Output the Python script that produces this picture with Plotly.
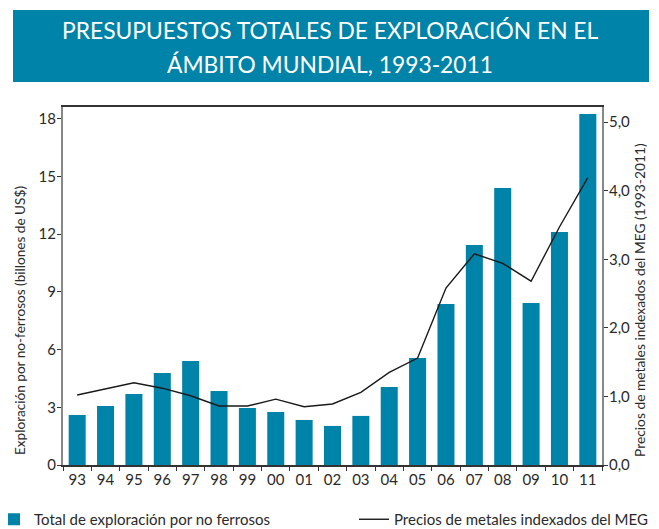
import plotly.graph_objects as go

years = ["93", "94", "95", "96", "97", "98", "99", "00", "01", "02",
         "03", "04", "05", "06", "07", "08", "09", "10", "11"]
exploracion = [2.6, 3.06, 3.69, 4.78, 5.40, 3.84, 2.96, 2.75, 2.34, 2.03,
               2.55, 4.05, 5.56, 8.36, 11.43, 14.39, 8.42, 12.10, 18.23]
precios = [1.02, 1.11, 1.20, 1.12, 1.01, 0.86, 0.86, 0.96, 0.85, 0.89,
           1.06, 1.35, 1.56, 2.58, 3.08, 2.94, 2.68, 3.47, 4.19]
left_ticks = [0, 3, 6, 9, 12, 15, 18]
right_ticks = [0, 1, 2, 3, 4, 5]
right_labels = ["0,0", "1,0", "2,0", "3,0", "4,0", "5,0"]

TEAL = "#0083a8"
FONT = "Lato"
TXT = "#2a2a2a"

fig = go.Figure()
fig.add_trace(go.Bar(x=years, y=exploracion, marker_color=TEAL, marker_line_width=0,
                     name="Total de exploración por no ferrosos", legend="legend"))
fig.add_trace(go.Scatter(x=years, y=precios, yaxis="y2", mode="lines",
                         line=dict(color="#1a1a1a", width=1.4),
                         name="Precios de metales indexados del MEG", legend="legend2"))

# page is offset by the default 8px body margin
OFF = 8
PAGE_W, PAGE_H = 659, 529
W, H = PAGE_W - OFF, PAGE_H - OFF
L, R, T, B = 63, 602, 107, 465          # plot area in page pixels
pw, ph = R - L, B - T

def px(x):
    return (x - L) / pw

def py(y):
    return (B - y) / ph

fig.add_shape(type="rect", xref="paper", yref="paper",
              x0=px(13), x1=px(649), y0=py(82), y1=py(10),
              fillcolor=TEAL, line_width=0, layer="below")
fig.add_annotation(xref="paper", yref="paper", x=px(330), y=py(30),
                   text="PRESUPUESTOS TOTALES DE EXPLORACIÓN EN EL", showarrow=False,
                   font=dict(family=FONT, size=22.8, color="white"),
                   xanchor="center", yanchor="middle")
fig.add_annotation(xref="paper", yref="paper", x=px(330), y=py(64),
                   text="ÁMBITO MUNDIAL, 1993-2011", showarrow=False,
                   font=dict(family=FONT, size=22.8, color="white"),
                   xanchor="center", yanchor="middle")
fig.add_annotation(xref="paper", yref="paper", x=px(20), y=py(321),
                   text="Exploración por no-ferrosos (billones de US$)", showarrow=False,
                   textangle=-90, font=dict(family=FONT, size=13.6, color=TXT),
                   xanchor="center", yanchor="middle")
fig.add_annotation(xref="paper", yref="paper", x=px(639), y=py(300),
                   text="Precios de metales indexados del MEG (1993-2011)", showarrow=False,
                   textangle=-90, font=dict(family=FONT, size=13.8, color=TXT),
                   xanchor="center", yanchor="middle")

fig.update_layout(
    width=W, height=H,
    margin=dict(l=L - OFF, r=PAGE_W - R, t=T - OFF, b=PAGE_H - B, autoexpand=False),
    paper_bgcolor="white", plot_bgcolor="white",
    font=dict(family=FONT, size=14, color=TXT),
    bargap=0.4,
    xaxis=dict(type="category", tickson="boundaries", ticks="outside", ticklen=4,
               tickcolor="#333", showline=True, linecolor="#333", linewidth=1.5,
               mirror=True, showgrid=False, tickfont=dict(size=15), automargin=False),
    yaxis=dict(range=[0, 18.6], tickvals=left_ticks, ticks="outside", ticklen=4,
               tickcolor="#333", showline=True, linecolor="#888", linewidth=2,
               showgrid=False, zeroline=False, tickfont=dict(size=15), automargin=False,
               ticklabelstandoff=-2),
    yaxis2=dict(range=[0, 5.22], overlaying="y", side="right", tickvals=right_ticks,
                ticktext=right_labels, ticks="outside", ticklen=4, tickcolor="#333",
                showline=True, linecolor="#888", linewidth=2, showgrid=False,
                zeroline=False, tickfont=dict(size=15), automargin=False,
                ticklabelstandoff=-2),
    legend=dict(x=px(-6), y=py(503), xanchor="left", yanchor="top",
                font=dict(size=15), bgcolor="rgba(0,0,0,0)"),
    legend2=dict(x=px(354), y=py(503), xanchor="left", yanchor="top",
                 font=dict(size=15), bgcolor="rgba(0,0,0,0)"),
    showlegend=True,
)

fig.write_html("out.html")
